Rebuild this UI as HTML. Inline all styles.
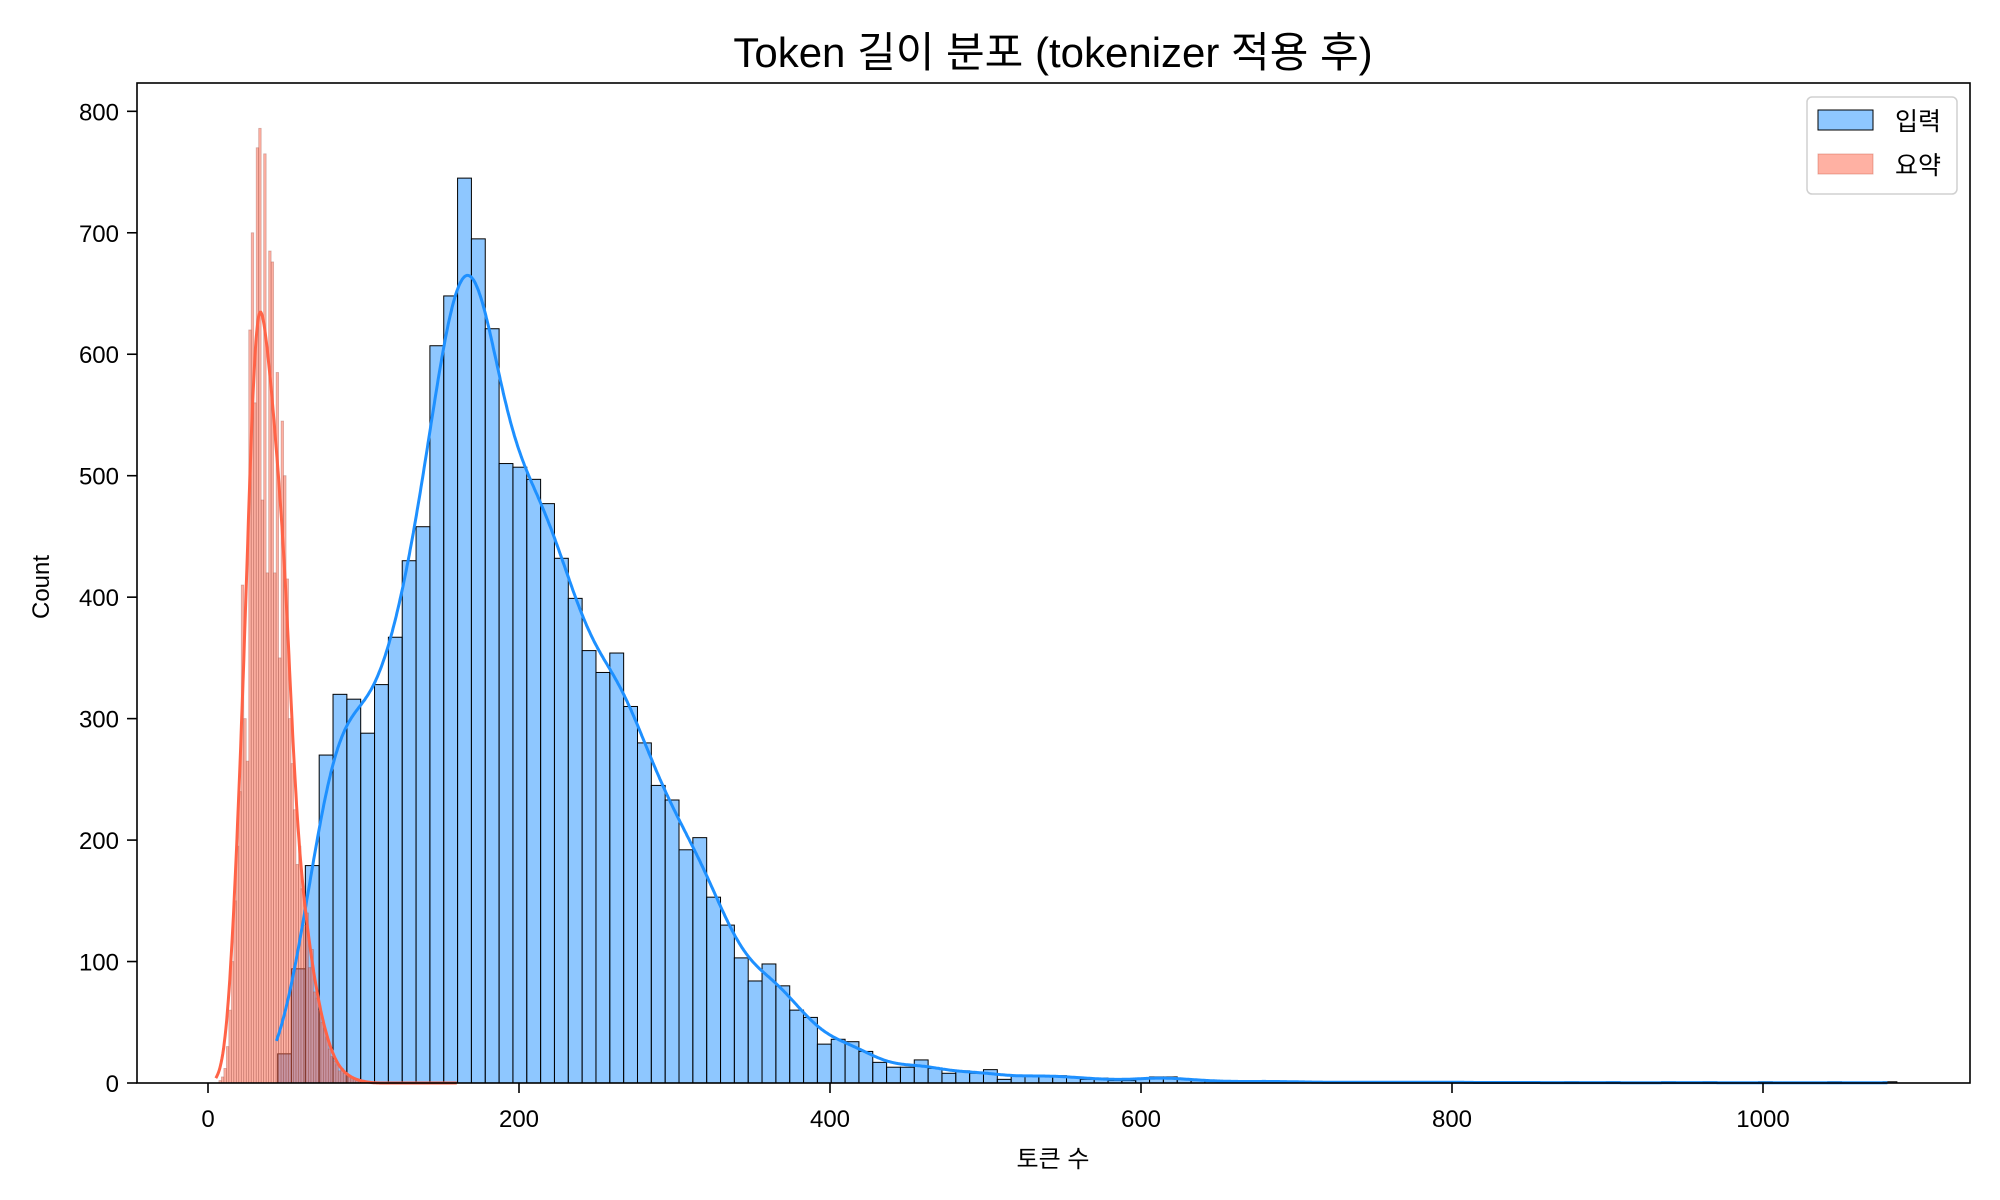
<!DOCTYPE html>
<html><head><meta charset="utf-8">
<style>
html,body{margin:0;padding:0;background:#fff;}
svg{display:block;font-family:"Liberation Sans","Noto Sans CJK KR",sans-serif;}
</style></head>
<body>
<svg id="chart" width="2000" height="1200" viewBox="0 0 2000 1200" xmlns="http://www.w3.org/2000/svg">
<rect width="2000" height="1200" fill="#fff"/>
<text x="1053" y="67" text-anchor="middle" font-size="42">Token 길이 분포 (tokenizer 적용 후)</text>
<g id="bars-blue"></g>
<g id="bars-red"></g>
<g id="kde"></g>
<rect x="137" y="83" width="1833" height="1000" fill="none" stroke="#000" stroke-width="1.6"/>
<g id="xaxis"></g>
<g id="yaxis"></g>
<text x="1053" y="1167" text-anchor="middle" font-size="24">토큰 수</text>
<text transform="translate(49,587) rotate(-90)" text-anchor="middle" font-size="24">Count</text>
<g>
<rect x="1807" y="97" width="150" height="97" rx="5" fill="#fff" fill-opacity="0.8" stroke="#d0d0d0" stroke-width="1.5"/>
<rect x="1818" y="110" width="55" height="20" fill="rgba(30,144,255,0.5)" stroke="#000" stroke-width="1"/>
<text x="1895" y="130" font-size="25">입력</text>
<rect x="1818" y="154" width="55" height="20" fill="rgba(255,99,71,0.5)" stroke="rgba(200,80,60,0.4)" stroke-width="1"/>
<text x="1895" y="174" font-size="25">요약</text>
</g>
</svg>
<script>
const xTicks = [0, 200, 400, 600, 800, 1000];
const yTicks = [0, 100, 200, 300, 400, 500, 600, 700, 800];
const inputBinStart = 44.8;
const inputBinWidth = 8.9;
const inputCounts = [24,94,179,270,320,316,288,328,367,430,458,607,648,745,695,621,510,507,497,477,432,399,356,338,354,310,280,245,233,192,202,153,130,103,84,98,80,60,54,32,36,34,26,17,13,13,19,12,8,10,8,11,3,6,6,6,6,5,3,4,2,2,4,5,5,3,2,2,1,1,1,2,1,1,1,0,1,1,0,1,1,0,1,0,1,1,0,0,1,0,1,0,0,1,0,0,1,0,0,0,1,0,0,1,0,0,0,1,0,0,0,0,1,0,0,0,1];
const summaryBinStart = 7.0;
const summaryBinWidth = 1.6;
const summaryCounts = [2,5,12,30,60,100,150,195,240,410,300,265,620,700,560,770,786,480,765,420,685,676,420,585,350,545,500,415,300,263,225,180,195,160,130,140,95,110,75,70,60,50,45,38,28,22,18,15,10,12,8,6,5,4,3,2,3,1,1,1];

const X0 = 208, XS = 1.555, Y0 = 1083, YS = 1.2146;
function sx(v){ return X0 + v*XS; }
function sy(v){ return Y0 - v*YS; }
const NS = "http://www.w3.org/2000/svg";
function mk(tag, attrs, parent){ const e=document.createElementNS(NS,tag); for(const k in attrs) e.setAttribute(k,attrs[k]); parent.appendChild(e); return e; }

const gb = document.getElementById('bars-blue');
inputCounts.forEach((c,i)=>{
  if(c<=0) return;
  const a = inputBinStart + i*inputBinWidth;
  const r = mk('rect',{x:sx(a),y:sy(c),width:inputBinWidth*XS,height:c*YS,fill:'rgba(30,144,255,0.5)',stroke:'#000','stroke-width':1},gb);
  
  
});
const gr = document.getElementById('bars-red');
summaryCounts.forEach((c,i)=>{
  if(c<=0) return;
  const a = summaryBinStart + i*summaryBinWidth;
  const r = mk('rect',{x:sx(a),y:sy(c),width:summaryBinWidth*XS,height:c*YS,fill:'rgba(255,99,71,0.5)',stroke:'rgba(140,70,60,0.35)','stroke-width':0.8},gr);
  
  
});

function kdePath(counts, start, w, h, lo, hi){
  const centers = counts.map((c,i)=>start + (i+0.5)*w);
  let d = '';
  for(let x=lo; x<=hi; x+=0.5){
    let s=0;
    for(let i=0;i<counts.length;i++){ const u=(x-centers[i])/h; s += counts[i]*Math.exp(-0.5*u*u); }
    const y = s*w/(h*Math.sqrt(2*Math.PI));
    d += (d?'L':'M') + sx(x).toFixed(1) + ',' + sy(y).toFixed(1);
  }
  return d;
}
const gk = document.getElementById('kde');
const kb = mk('path',{d:kdePath(inputCounts,inputBinStart,inputBinWidth,13,44,1080),fill:'none',stroke:'#1e90ff','stroke-width':3},gk);


const kr = mk('path',{d:kdePath(summaryCounts,summaryBinStart,summaryBinWidth,4.2,5,160),fill:'none',stroke:'#ff6347','stroke-width':3},gk);



const gx = document.getElementById('xaxis');
xTicks.forEach(t=>{
  const l = mk('line',{x1:sx(t),x2:sx(t),y1:1083,y2:1093,stroke:'#000','stroke-width':1.6},gx);
  
  
  const tx = mk('text',{x:sx(t),y:1127,'text-anchor':'middle','font-size':24},gx);
  tx.textContent = t;
  
  
});
const gy = document.getElementById('yaxis');
yTicks.forEach(t=>{
  const l = mk('line',{x1:127,x2:137,y1:sy(t),y2:sy(t),stroke:'#000','stroke-width':1.6},gy);
  
  
  const tx = mk('text',{x:119,y:sy(t)+9,'text-anchor':'end','font-size':24},gy);
  tx.textContent = t;
  
  
});
</script>
</body></html>
